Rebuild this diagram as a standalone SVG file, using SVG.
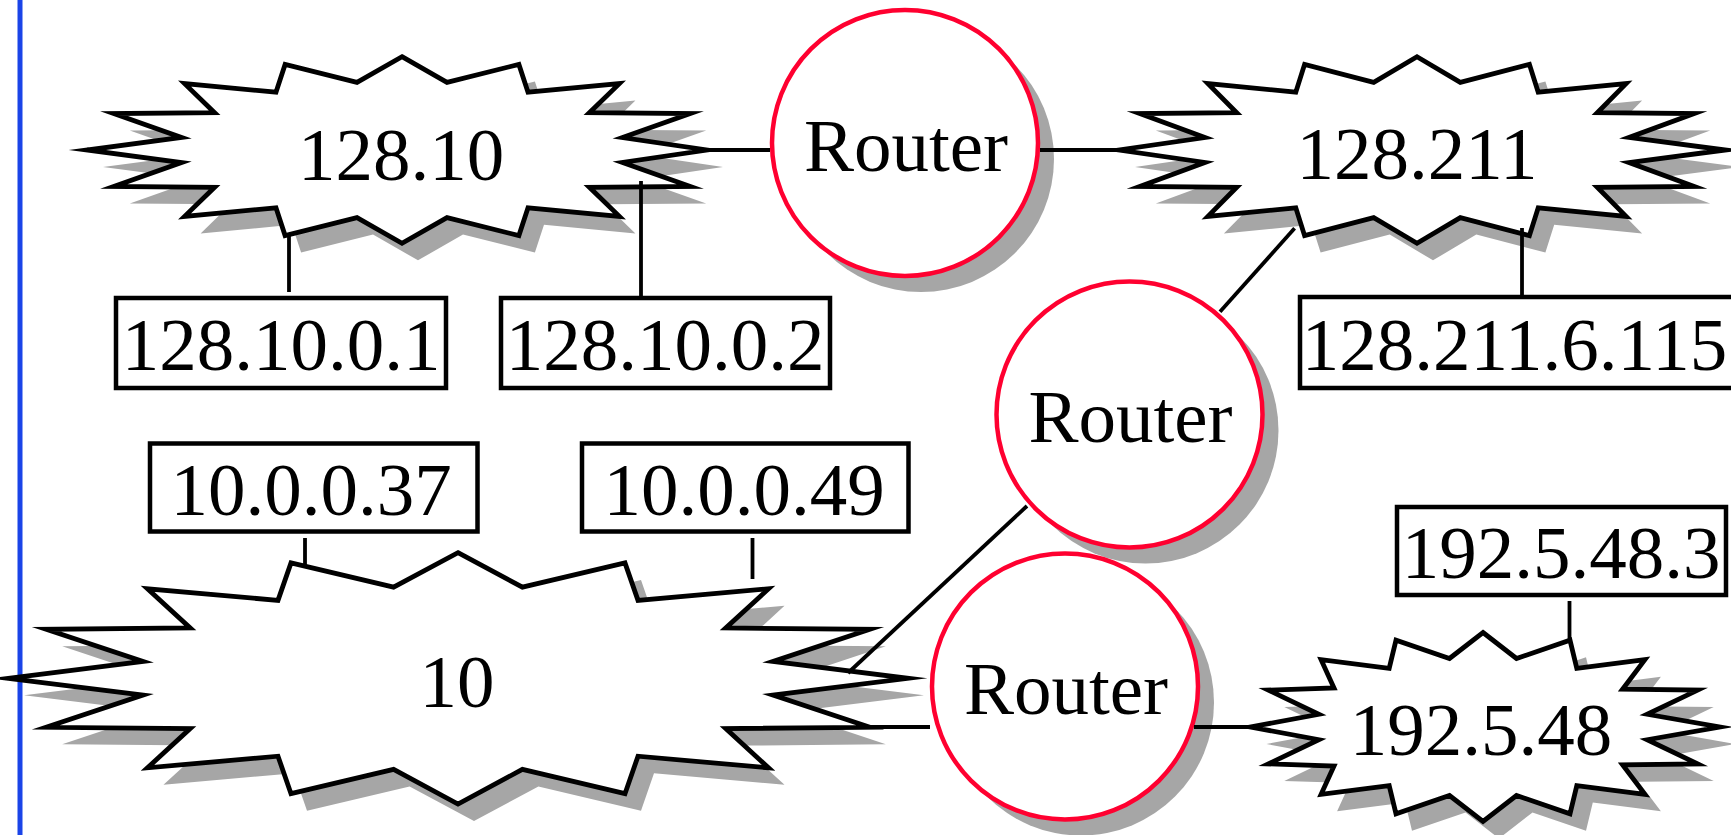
<svg xmlns="http://www.w3.org/2000/svg" xmlns:xlink="http://www.w3.org/1999/xlink" width="1731" height="835" viewBox="0 0 1731 835">
<style>
.shadow{fill:#a6a6a6;stroke:none}
.burst{fill:#ffffff;stroke:#000000;stroke-width:4.8;stroke-linejoin:miter;stroke-miterlimit:10}
.router{fill:#ffffff;stroke:#ff0030;stroke-width:4.5}
.box{fill:#ffffff;stroke:#000000;stroke-width:4.5}
.lbl{font-family:"Liberation Serif","Times New Roman",serif;font-size:75px;fill:#000000;text-anchor:middle}
.wire{stroke:#000000;stroke-width:3.8;fill:none}
</style>
<defs>
<polygon id="pA" points="402,56.7 447,82.4 518.9,64.4 528,92.2 619.4,83.6 589.4,112.7 690.2,113.6 622.5,137.5 707,150 622.5,162.5 690.2,186.4 589.4,187.3 619.4,216.4 528,207.8 518.9,235.6 447,217.6 402,243.3 357,217.6 285.1,235.6 276,207.8 184.6,216.4 214.6,187.3 113.8,186.4 181.5,162.5 87,150 181.5,137.5 113.8,113.6 214.6,112.7 184.6,83.6 276,92.2 285.1,64.4 357,82.4"/>
<polygon id="pB" points="1417,56.7 1460.3,82.4 1529.4,64.4 1538.2,92.2 1626.1,83.6 1597.3,112.7 1694.2,113.6 1629.1,137.5 1725,150 1629.1,162.5 1694.2,186.4 1597.3,187.3 1626.1,216.4 1538.2,207.8 1529.4,235.6 1460.3,217.6 1417,243.3 1373.7,217.6 1304.6,235.6 1295.8,207.8 1207.9,216.4 1236.7,187.3 1139.8,186.4 1204.9,162.5 1119,150 1204.9,137.5 1139.8,113.6 1236.7,112.7 1207.9,83.6 1295.8,92.2 1304.6,64.4 1373.7,82.4"/>
<polygon id="pC" points="458,552.6 522.4,587.2 625,562.9 638,600.4 768.5,588.8 725.8,628 869.8,629.3 773,661.5 908,678.3 773,695.1 869.8,727.3 725.8,728.6 768.5,767.8 638,756.2 625,793.7 522.4,769.4 458,804 393.6,769.4 291,793.7 278,756.2 147.5,767.8 190.2,728.6 46.2,727.3 143,695.1 8,678.3 143,661.5 46.2,629.3 190.2,628 147.5,588.8 278,600.4 291,562.9 393.6,587.2"/>
<polygon id="pD" points="1483,632.5 1516.5,658.5 1570,640.2 1576.8,668.4 1644.9,659.7 1622.6,689.2 1697.7,690.1 1647.2,714.3 1719.5,727 1647.2,739.7 1697.7,763.9 1622.6,764.8 1644.9,794.3 1576.8,785.6 1570,813.8 1516.5,795.5 1483,821.5 1449.5,795.5 1396,813.8 1389.2,785.6 1321.1,794.3 1334,766 1268.3,763.9 1318.8,739.7 1250.5,727 1318.8,714.3 1268.3,690.1 1334,688 1321.1,659.7 1389.2,668.4 1396,640.2 1449.5,658.5"/>
</defs>
<rect x="0" y="0" width="1731" height="835" fill="#ffffff"/>
<rect id="margin-bar" x="17.5" y="0" width="5" height="835" fill="#1a44e8"/>

<g id="net-128-10">
<use href="#pA" xlink:href="#pA" class="shadow" transform="translate(16,17)"/>
<use href="#pA" xlink:href="#pA" class="burst"/>
<text class="lbl" x="401" y="180">128.10</text>
</g>
<g id="net-128-211">
<use href="#pB" xlink:href="#pB" class="shadow" transform="translate(16,17)"/>
<use href="#pB" xlink:href="#pB" class="burst"/>
<text class="lbl" x="1417" y="178.5">128.211</text>
</g>
<g id="net-10">
<use href="#pC" xlink:href="#pC" class="shadow" transform="translate(16,17)"/>
<use href="#pC" xlink:href="#pC" class="burst"/>
<text class="lbl" x="457" y="706.5">10</text>
</g>
<g id="net-192-5-48">
<use href="#pD" xlink:href="#pD" class="shadow" transform="translate(16,17)"/>
<use href="#pD" xlink:href="#pD" class="burst"/>
<text class="lbl" x="1481" y="755">192.5.48</text>
</g>

<g id="router-1">
<circle class="shadow" cx="921" cy="159" r="133"/>
<circle class="router" cx="905" cy="143" r="133"/>
<text class="lbl" x="906" y="170.5">Router</text>
</g>
<g id="router-2">
<circle class="shadow" cx="1145.5" cy="430.5" r="133"/>
<circle class="router" cx="1129.5" cy="414.5" r="133"/>
<text class="lbl" x="1130.5" y="441.7">Router</text>
</g>
<g id="router-3">
<circle class="shadow" cx="1081" cy="702.5" r="133"/>
<circle class="router" cx="1065" cy="686.5" r="133"/>
<text class="lbl" x="1066" y="713.5">Router</text>
</g>

<g id="host-128-10-0-1">
<rect class="box" x="116" y="298" width="330" height="90"/>
<text class="lbl" x="281" y="370">128.10.0.1</text>
</g>
<g id="host-128-10-0-2">
<rect class="box" x="501" y="298" width="329" height="90"/>
<text class="lbl" x="665" y="370">128.10.0.2</text>
</g>
<g id="host-128-211-6-115">
<rect class="box" x="1300" y="297" width="440" height="91"/>
<text class="lbl" x="1514.5" y="370">128.211.6.115</text>
</g>
<g id="host-10-0-0-37">
<rect class="box" x="150" y="443.5" width="327.5" height="88"/>
<text class="lbl" x="311" y="515">10.0.0.37</text>
</g>
<g id="host-10-0-0-49">
<rect class="box" x="582" y="443.5" width="326.5" height="88"/>
<text class="lbl" x="744" y="515">10.0.0.49</text>
</g>
<g id="host-192-5-48-3">
<rect class="box" x="1397" y="507" width="329" height="88"/>
<text class="lbl" x="1561" y="578.3">192.5.48.3</text>
</g>

<g id="connectors">
<line class="wire" x1="706" y1="150" x2="770" y2="150"/>
<line class="wire" x1="1040" y1="150" x2="1119" y2="150"/>
<line class="wire" x1="289" y1="236" x2="289" y2="292"/>
<line class="wire" x1="641" y1="181" x2="641" y2="298"/>
<line class="wire" x1="1522" y1="228" x2="1522" y2="297"/>
<line class="wire" x1="1294.6" y1="228.3" x2="1220" y2="311.7"/>
<line class="wire" x1="1027" y1="506" x2="848" y2="673"/>
<line class="wire" x1="860" y1="727" x2="930" y2="727"/>
<line class="wire" x1="1194" y1="727" x2="1250.5" y2="727"/>
<line class="wire" x1="305" y1="538" x2="305" y2="566"/>
<line class="wire" x1="752.5" y1="538" x2="752.5" y2="579"/>
<line class="wire" x1="1569.5" y1="601" x2="1569.5" y2="642"/>
</g>
</svg>
